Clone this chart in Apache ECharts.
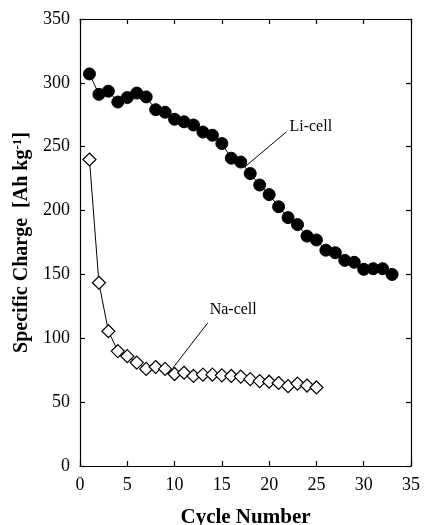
<!DOCTYPE html>
<html><head><meta charset="utf-8">
<script src="https://cdn.jsdelivr.net/npm/echarts@6/dist/echarts.min.js"></script>
<style>html,body{margin:0;padding:0;background:#fff}#c{width:424px;height:525px}</style>
</head><body><div id="c"></div>
<script>
const cyclesLi = [1,2,3,4,5,6,7,8,9,10,11,12,13,14,15,16,17,18,19,20,21,22,23,24,25,26,27,28,29,30,31,32,33];
const liValues = [307,291,293.5,285,288.5,292,289,279,277,271.5,269.5,267,261.5,259,252.5,241,238,229,220,212.5,203,194.5,189,180,177,169,167,161,159.5,154,154.5,154.5,150];
const cyclesNa = [1,2,3,4,5,6,7,8,9,10,11,12,13,14,15,16,17,18,19,20,21,22,23,24,25];
const naValues = [240,143.5,105.5,90,86,81,76,77.5,76,72,73,70.5,71.5,71.5,71,70.5,70,68,66.5,66,65,62.5,64.5,63,61.5];
const xTicks = [0,5,10,15,20,25,30,35];
const yTicks = [0,50,100,150,200,250,300,350];

const serif = 'Liberation Serif';
const chart = echarts.init(document.getElementById('c'));
const axisCommon = {
  axisLine:{show:true,onZero:false,lineStyle:{color:'#000',width:1.2}},
  axisTick:{show:true,inside:true,length:5,lineStyle:{color:'#000',width:1.2}},
  splitLine:{show:false}
};
chart.setOption({
  animation:false,
  backgroundColor:'#fff',
  grid:{left:80,right:13,top:19,bottom:59,containLabel:false,outerBoundsMode:'none'},
  xAxis:[{
    type:'value',min:xTicks[0],max:xTicks[xTicks.length-1],interval:5,...axisCommon,
    axisLabel:{color:'#000',fontFamily:serif,fontSize:18,margin:10},
    name:'Cycle Number',nameLocation:'middle',nameGap:41,
    nameTextStyle:{color:'#000',fontFamily:serif,fontSize:21,fontWeight:'bold'}
  },{
    type:'value',position:'top',min:xTicks[0],max:xTicks[xTicks.length-1],interval:5,...axisCommon,
    axisLabel:{show:false}
  }],
  yAxis:[{
    type:'value',min:yTicks[0],max:yTicks[yTicks.length-1],interval:50,...axisCommon,
    axisLabel:{color:'#000',fontFamily:serif,fontSize:18,margin:10},
    name:'{a|Specific Charge  [Ah kg}{s|-1}{a|]}',nameLocation:'middle',nameGap:42,
    nameTextStyle:{color:'#000',rich:{
      a:{fontFamily:serif,fontSize:20,fontWeight:'bold',color:'#000'},
      s:{fontFamily:serif,fontSize:13,fontWeight:'bold',color:'#000',verticalAlign:'top',padding:[0,0,8,0]}
    }}
  },{
    type:'value',position:'right',min:yTicks[0],max:yTicks[yTicks.length-1],interval:50,...axisCommon,
    axisLabel:{show:false}
  }],
  series:[{
    type:'line',name:'Li-cell',
    data:cyclesLi.map((c,i)=>[c,liValues[i]]),
    symbol:'circle',symbolSize:12,
    itemStyle:{color:'#000',borderColor:'#000'},
    lineStyle:{color:'#000',width:1},
    markLine:{silent:true,symbol:'none',label:{show:false},lineStyle:{color:'#000',width:1,type:'solid'},
      data:[[{coord:[21.8,261.5]},{coord:[17.4,234]}]]},
    markPoint:{symbol:'rect',symbolSize:1,itemStyle:{color:'rgba(0,0,0,0)'},
      label:{show:true,formatter:'Li-cell',color:'#000',fontFamily:serif,fontSize:16,position:'inside'},
      data:[{coord:[24.4,265.5]}]}
  },{
    type:'line',name:'Na-cell',
    data:cyclesNa.map((c,i)=>[c,naValues[i]]),
    symbol:'diamond',symbolSize:[13,13],
    itemStyle:{color:'#fff',borderColor:'#000',borderWidth:1.2},
    lineStyle:{color:'#000',width:1},
    markLine:{silent:true,symbol:'none',label:{show:false},lineStyle:{color:'#000',width:1,type:'solid'},
      data:[[{coord:[13.5,112]},{coord:[9.8,76.5]}]]},
    markPoint:{symbol:'rect',symbolSize:1,itemStyle:{color:'rgba(0,0,0,0)'},
      label:{show:true,formatter:'Na-cell',color:'#000',fontFamily:serif,fontSize:16,position:'inside'},
      data:[{coord:[16.2,122]}]}
  }]
});
</script></body></html>
